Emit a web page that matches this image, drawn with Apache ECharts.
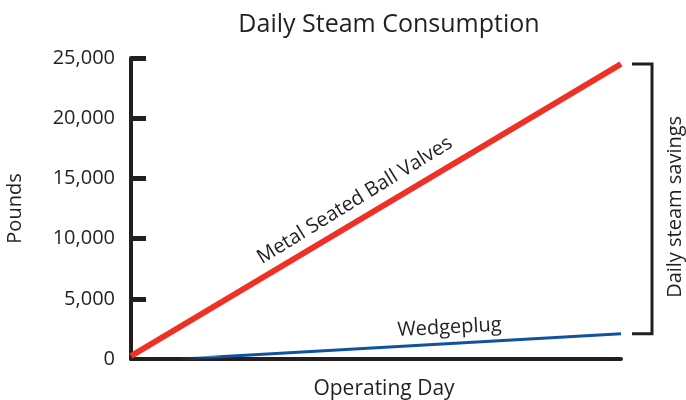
<!DOCTYPE html>
<html><head><meta charset="utf-8">
<script src="https://cdn.jsdelivr.net/npm/echarts@6/dist/echarts.min.js"></script>
<style>html,body{margin:0;padding:0;background:#fff}#c{width:686px;height:400px}</style>
</head><body><div id="c"></div>
<script>
var yTicks = [0, 5000, 10000, 15000, 20000, 25000];
var metalX = [0, 100];
var metalY = [250, 24500];
var wedgeX = [10, 100];
var wedgeY = [0, 2100];
var metalName = 'Metal Seated Ball Valves';
var wedgeName = 'Wedgeplug';

var font = '"Open Sans", "Noto Sans", sans-serif';
var ink = '#231f20';
var chart = echarts.init(document.getElementById('c'));
chart.setOption({
  animation: false,
  title: { text: 'Daily Steam Consumption', left: 384, top: 7, textAlign: 'center',
    textStyle: { fontFamily: font, fontWeight: 'normal', fontSize: 25, color: ink } },
  grid: { left: 131, right: 65, top: 58, bottom: 41, outerBoundsMode: 'none', containLabel: false },
  xAxis: { type: 'value', min: 0, max: 100, name: 'Operating Day', nameLocation: 'middle', nameGap: 20,
    nameTextStyle: { fontFamily: font, fontSize: 21, color: ink, padding: [0, 0, 0, 16] },
    axisLine: { lineStyle: { color: ink, width: 4 } }, axisTick: { show: false },
    axisLabel: { show: false }, splitLine: { show: false } },
  yAxis: { type: 'value', min: 0, max: 25000, interval: 5000, name: 'Pounds', nameLocation: 'middle', nameGap: 106,
    nameTextStyle: { fontFamily: font, fontSize: 20, color: ink },
    axisLine: { show: true, lineStyle: { color: ink, width: 4 } },
    axisTick: { show: true, inside: true, length: 15, lineStyle: { color: ink, width: 5 },
      customValues: yTicks.slice(1) },
    axisLabel: { fontFamily: font, fontSize: 20, color: ink, margin: 16,
      formatter: function (v) { return v.toLocaleString('en-US'); } },
    splitLine: { show: false } },
  series: [
    { type: 'line', symbol: 'none', data: metalX.map(function (x, i) { return [x, metalY[i]]; }),
      lineStyle: { color: '#ee3124', width: 6 }, z: 3,
      markPoint: { symbolSize: 0, data: [{ coord: [45.7, 13170], label: { show: true, formatter: metalName,
        rotate: 31.6, fontFamily: font, fontSize: 20, color: ink, position: 'inside' } }] } },
    { type: 'line', symbol: 'none', data: wedgeX.map(function (x, i) { return [x, wedgeY[i]]; }),
      lineStyle: { width: 3, color: new echarts.graphic.LinearGradient(0, 0, 1, 0, [
        { offset: 0, color: 'rgba(16,82,160,0)' }, { offset: 0.1, color: '#1052a0' }, { offset: 1, color: '#1052a0' }]) },
      z: 4,
      markPoint: { symbolSize: 0, data: [{ coord: [65, 2600], label: { show: true, formatter: wedgeName,
        rotate: 3, fontFamily: font, fontSize: 20, color: ink, position: 'inside' } }] } },
    { type: 'custom', clip: false, silent: true, z: 5,
      data: [[metalY[1], wedgeY[1]]],
      renderItem: function (params, api) {
        var top = api.coord([100, api.value(0)]);
        var bot = api.coord([100, api.value(1)]);
        var xr = top[0] + 31, xl = top[0] + 11;
        var ts = { stroke: ink, lineWidth: 3, fill: null };
        return { type: 'group', children: [
          { type: 'polyline', shape: { points: [[xl, top[1]], [xr, top[1]], [xr, bot[1]], [xl, bot[1]]] }, style: ts },
          { type: 'text', x: xr + 23, y: (top[1] + bot[1]) / 2 + 8, rotation: Math.PI / 2,
            style: { text: 'Daily steam savings', fontFamily: font, fontSize: 20, fill: ink, align: 'center', verticalAlign: 'middle' } }
        ] };
      } }
  ]
});
</script></body></html>
